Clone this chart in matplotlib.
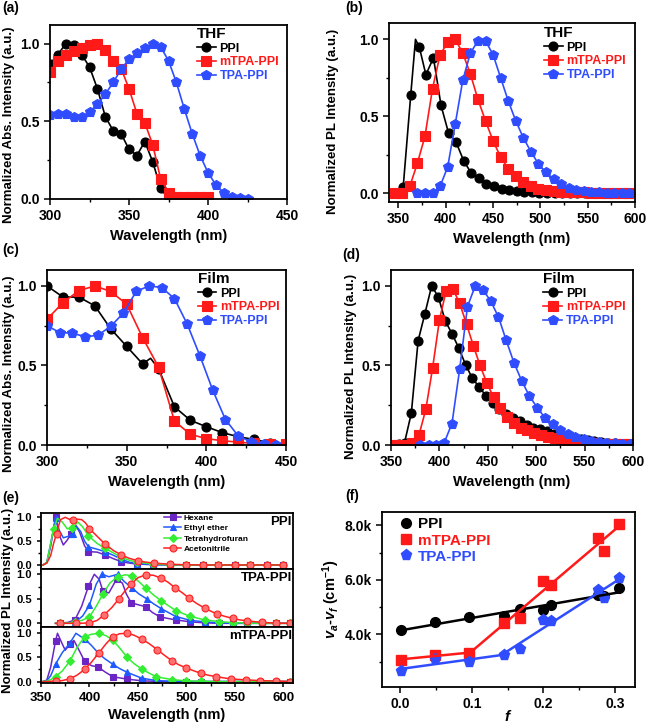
import numpy as np
import matplotlib
matplotlib.use("Agg")
import matplotlib.pyplot as plt
from matplotlib.ticker import MultipleLocator, FormatStrFormatter, FuncFormatter

plt.rcParams['font.family'] = ['Liberation Sans', 'DejaVu Sans']
plt.rcParams['font.weight'] = 'bold'
plt.rcParams['axes.labelweight'] = 'bold'
plt.rcParams['mathtext.fontset'] = 'custom'
plt.rcParams['mathtext.rm'] = 'Liberation Sans:bold'
plt.rcParams['mathtext.it'] = 'Liberation Sans:italic:bold'
plt.rcParams['mathtext.bf'] = 'Liberation Sans:bold'

# ---------------- (a) THF absorption ----------------
a_ppi_x = [300, 305, 310, 315, 320, 325, 330, 335, 340, 345, 350, 355, 360, 365, 370, 375]
a_ppi_y = [0.87, 0.93, 1.0, 0.99, 0.93, 0.85, 0.71, 0.53, 0.44, 0.42, 0.32, 0.28, 0.37, 0.24, 0.07, 0.0]
a_mtpa_x = [300, 305, 310, 315, 320, 325, 330, 335, 340, 345, 350, 355, 360, 365, 370, 375, 380, 385, 390, 395, 400]
a_mtpa_y = [0.82, 0.89, 0.93, 0.95, 0.97, 0.99, 1.0, 0.96, 0.89, 0.84, 0.71, 0.55, 0.49, 0.35, 0.13, 0.04,
            0.015, 0.01, 0.01, 0.01, 0.01]
a_tpa_x = [300, 305, 310, 315, 320, 325, 330, 335, 340, 345, 350, 355, 360, 365, 370, 375, 380, 385, 390,
           395, 400, 405, 410, 415, 420, 425]
a_tpa_y = [0.54, 0.545, 0.545, 0.53, 0.53, 0.56, 0.61, 0.675, 0.75, 0.835, 0.90, 0.94, 0.97, 1.0, 0.98, 0.89,
           0.75, 0.58, 0.42, 0.28, 0.17, 0.09, 0.04, 0.01, 0.005, 0.0]

# ---------------- (b) THF PL ----------------
b_ppi_x = [355, 363, 368, 372, 379, 387, 395, 403, 411, 419, 427, 435, 443, 451, 459, 467, 475, 483, 491, 499,
           507, 515, 523, 531, 539, 547, 555, 563, 571, 579, 587, 595]
b_ppi_y = [0.04, 0.64, 1.0, 0.95, 0.77, 0.88, 0.57, 0.39, 0.33, 0.21, 0.13, 0.10, 0.06, 0.045, 0.03, 0.02,
           0.015, 0.01, 0.005, 0.003, 0.002, 0.001, 0, 0, 0, 0, 0, 0, 0, 0, 0, 0]
b_ppi_plain = [368]
b_mtpa_x = [346, 354, 362, 370, 378, 386, 394, 402, 410, 418, 426, 434, 442, 450, 458, 466, 474, 482, 490,
            498, 506, 514, 522, 530, 538, 546, 554, 562, 570, 578, 586, 594]
b_mtpa_y = [0, 0, 0.045, 0.195, 0.37, 0.68, 0.90, 0.98, 1.0, 0.91, 0.775, 0.61, 0.47, 0.34, 0.235, 0.16,
            0.11, 0.07, 0.045, 0.03, 0.02, 0.015, 0.01, 0.008, 0.006, 0.005, 0.004, 0.003, 0.003, 0.002,
            0.002, 0.002]
b_tpa_x = [370, 378, 386, 394, 402, 410, 418, 426, 434, 442, 450, 458, 466, 474, 482, 490, 498, 506, 514,
           522, 530, 538, 546, 554, 562, 570, 578, 586, 594]
b_tpa_y = [0, 0, 0, 0.045, 0.17, 0.45, 0.735, 0.91, 0.99, 0.99, 0.90, 0.75, 0.60, 0.47, 0.36, 0.27, 0.19,
           0.135, 0.09, 0.06, 0.035, 0.022, 0.013, 0.008, 0.005, 0.003, 0.002, 0.001, 0.0]

# ---------------- (c) Film absorption ----------------
c_ppi_x = [300, 310, 320, 330, 340, 350, 360, 365, 370, 380, 390, 400, 410, 420, 430, 440, 450]
c_ppi_y = [1.0, 0.93, 0.93, 0.875, 0.73, 0.62, 0.51, 0.545, 0.48, 0.24, 0.155, 0.115, 0.078, 0.052, 0.035,
           0.014, 0.0]
c_ppi_plain = [365]
c_mtpa_x = [300, 310, 320, 330, 340, 350, 360, 370, 380, 390, 400, 410, 420, 430, 440, 450]
c_mtpa_y = [0.79, 0.895, 0.97, 1.0, 0.965, 0.885, 0.675, 0.49, 0.15, 0.067, 0.04, 0.027, 0.018, 0.01,
            0.006, 0.004]
c_tpa_x = [300, 308, 316, 324, 332, 340, 348, 356, 364, 372, 380, 388, 396, 404, 412, 420, 428, 436, 444]
c_tpa_y = [0.75, 0.707, 0.703, 0.68, 0.69, 0.746, 0.83, 0.965, 1.0, 0.99, 0.92, 0.76, 0.56, 0.345, 0.16,
           0.057, 0.02, 0.006, 0.0]

# ---------------- (d) Film PL ----------------
d_ppi_x = [352, 358, 364, 371, 378, 385, 392, 399, 406, 413, 420, 427, 434, 441, 448, 455, 462, 469, 476,
           483, 490, 497, 504, 511, 518, 525, 532, 539, 546, 553, 560, 567, 574, 581, 588, 595]
d_ppi_y = [0.0, 0.005, 0.015, 0.2, 0.655, 0.825, 1.0, 0.93, 0.78, 0.70, 0.61, 0.505, 0.42, 0.365, 0.31,
           0.265, 0.225, 0.195, 0.17, 0.15, 0.128, 0.11, 0.098, 0.085, 0.072, 0.06, 0.05, 0.042, 0.036,
           0.03, 0.025, 0.02, 0.015, 0.01, 0.008, 0.005]
d_mtpa_x = [351, 358, 365, 372, 379, 386, 393, 400, 407, 414, 421, 428, 435, 442, 449, 456, 463, 470, 477,
            484, 491, 498, 505, 512, 519, 526, 533, 540, 547, 554, 561, 568, 575, 582, 589, 596]
d_mtpa_y = [0, 0, 0, 0.01, 0.065, 0.225, 0.485, 0.785, 0.97, 0.98, 0.89, 0.76, 0.625, 0.50, 0.39, 0.30,
            0.23, 0.175, 0.14, 0.11, 0.092, 0.077, 0.063, 0.052, 0.043, 0.035, 0.028, 0.022, 0.018, 0.014,
            0.011, 0.009, 0.007, 0.006, 0.005, 0.004]
d_tpa_x = [380, 389, 397, 405, 413, 421, 429, 437, 445, 453, 461, 469, 477, 485, 493, 501, 509, 517, 525,
           533, 540, 549, 557, 565, 572, 581, 589, 597]
d_tpa_y = [0, 0, 0, 0.015, 0.135, 0.48, 0.87, 1.0, 0.975, 0.905, 0.805, 0.658, 0.518, 0.403, 0.308, 0.235,
           0.172, 0.13, 0.094, 0.067, 0.05, 0.036, 0.025, 0.019, 0.015, 0.01, 0.008, 0.004]

# ---------------- (e) solvatochromic PL ----------------
solvents = ['Hexane', 'Ethyl ether', 'Tetrahydrofuran', 'Acetonitrile']
tail_e = [483, 500, 517, 533, 550, 566, 583, 600]

e_ppi = {
    'Hexane': ([352, 356, 360, 365, 369, 373, 377, 381, 386, 390, 395, 399, 408, 416, 425, 433, 441, 449, 466] + tail_e,
               [0.0, 0.05, 0.4, 1.0, 0.62, 0.42, 0.52, 0.65, 0.83, 0.68, 0.4, 0.28, 0.27, 0.21, 0.13, 0.07,
                0.04, 0.02, 0.005, 0, 0, 0, 0, 0, 0, 0, 0],
               [352, 356, 360, 369, 373, 377, 386, 390, 395, 408, 425, 441]),
    'Ethyl ether': ([352, 356, 360, 365, 369, 373, 378, 383, 387, 391, 395, 399, 408, 416, 425, 433, 441, 449, 466] + tail_e,
                    [0.0, 0.05, 0.45, 0.98, 0.72, 0.57, 0.6, 0.66, 0.8, 0.7, 0.5, 0.38, 0.33, 0.28, 0.2, 0.12,
                     0.06, 0.03, 0.01, 0, 0, 0, 0, 0, 0, 0, 0],
                    [352, 356, 360, 369, 373, 378, 387, 391, 395, 408, 425, 441]),
    'Tetrahydrofuran': ([352, 356, 359, 363, 367, 372, 377, 382, 388, 393, 399, 408, 416, 425, 433, 441, 449, 466] + tail_e,
                        [0.0, 0.05, 0.35, 0.75, 0.98, 0.9, 0.76, 0.77, 0.9, 0.8, 0.61, 0.45, 0.35, 0.25, 0.16,
                         0.1, 0.06, 0.02, 0.005, 0, 0, 0, 0, 0, 0, 0],
                        [352, 356, 359, 367, 372, 377, 388, 393, 408, 425, 441]),
    'Acetonitrile': ([352, 356, 360, 363, 366, 370, 375, 379, 383, 388, 392, 396, 400, 408, 416, 425, 433, 441,
                      450, 458, 467] + tail_e,
                     [0.0, 0.04, 0.2, 0.45, 0.66, 0.95, 1.0, 0.96, 0.94, 0.96, 0.95, 0.88, 0.76, 0.6, 0.44, 0.3,
                      0.21, 0.14, 0.09, 0.06, 0.04, 0.015, 0.005, 0, 0, 0, 0, 0, 0],
                     [352, 356, 360, 363, 370, 375, 379, 388, 392, 396, 408, 425, 441, 458]),
}

tail_t = [489, 504, 519, 534, 548, 563, 578, 592, 607]
e_tpa = {
    'Hexane': ([365, 370, 378, 385, 392, 399, 405, 410, 414, 420, 428, 434, 438, 443, 450, 458, 465, 473] + tail_t,
               [0, 0.0, 0.02, 0.07, 0.35, 0.76, 1.0, 0.9, 0.65, 0.62, 0.9, 0.82, 0.6, 0.42, 0.38, 0.34, 0.22,
                0.13, 0.07, 0.03, 0.01, 0, 0, 0, 0, 0, 0],
               [365, 378, 392, 405, 410, 420, 434, 438, 450, 465]),
    'Ethyl ether': ([365, 370, 378, 385, 393, 400, 407, 413, 420, 429, 436, 444, 451, 459, 466, 474] + tail_t,
                    [0, 0, 0.005, 0.02, 0.15, 0.37, 0.8, 1.0, 0.95, 1.0, 0.85, 0.72, 0.6, 0.5, 0.4, 0.3, 0.14,
                     0.06, 0.03, 0.01, 0, 0, 0, 0, 0],
                    [365, 378, 393, 407, 420, 436, 451, 466]),
    'Tetrahydrofuran': ([365, 370, 378, 385, 392, 400, 407, 414, 421, 429, 437, 444, 451, 458, 466, 474] + tail_t,
                        [0, 0, 0.005, 0.03, 0.06, 0.13, 0.35, 0.6, 0.82, 0.95, 0.99, 0.97, 0.85, 0.72, 0.58,
                         0.46, 0.26, 0.14, 0.07, 0.035, 0.015, 0.005, 0, 0, 0],
                        [365, 378, 392, 407, 421, 437, 451, 466]),
    'Acetonitrile': ([365, 370, 378, 386, 393, 400, 408, 415, 423, 430, 437, 443, 450, 458, 466, 474, 481, 488,
                      496, 503, 511, 519, 526, 532, 540, 548, 555, 563, 570, 578, 585, 592, 607],
                     [0, 0, 0, 0, 0.003, 0.01, 0.06, 0.17, 0.32, 0.49, 0.67, 0.8, 0.93, 0.99, 0.98, 0.92, 0.84,
                      0.73, 0.62, 0.51, 0.4, 0.31, 0.24, 0.19, 0.14, 0.1, 0.07, 0.05, 0.035, 0.02, 0.01, 0.005, 0],
                     [365, 378, 393, 408, 423, 437, 450, 466, 481, 496, 511, 526, 540, 555, 570, 585]),
}

tail_m = [485, 500, 515, 531, 546, 561, 576, 592, 607]
e_mtpa = {
    'Hexane': ([352, 356, 360, 365, 367, 371, 375, 380, 384, 388, 395, 402, 409, 416, 424, 439, 454, 469] + tail_m,
               [0, 0.03, 0.3, 0.84, 1.0, 0.82, 0.65, 0.78, 0.85, 0.7, 0.42, 0.33, 0.3, 0.2, 0.1, 0.05, 0.015,
                0.005, 0, 0, 0, 0, 0, 0, 0, 0, 0],
               [352, 356, 360, 367, 371, 375, 384, 388, 402, 416]),
    'Ethyl ether': ([352, 356, 360, 365, 372, 380, 386, 395, 402, 409, 416, 424, 431, 439, 454, 469] + tail_m,
                    [0, 0.02, 0.12, 0.36, 0.6, 0.8, 1.0, 0.88, 0.75, 0.59, 0.47, 0.36, 0.27, 0.19, 0.07, 0.02,
                     0.005, 0, 0, 0, 0, 0, 0, 0, 0],
                    [352, 356, 360, 372, 386, 402, 416, 431]),
    'Tetrahydrofuran': ([352, 356, 360, 365, 372, 380, 387, 395, 402, 410, 417, 424, 431, 439, 446, 454, 462, 469] + tail_m,
                        [0, 0.01, 0.04, 0.1, 0.22, 0.43, 0.7, 0.93, 0.98, 1.0, 0.95, 0.86, 0.7, 0.5, 0.37, 0.26,
                         0.17, 0.1, 0.04, 0.015, 0.005, 0, 0, 0, 0, 0, 0],
                        [352, 356, 360, 372, 387, 402, 417, 431, 446, 462]),
    'Acetonitrile': ([352, 356, 360, 365, 372, 380, 387, 395, 402, 410, 417, 424, 431, 439, 446, 454, 462, 470,
                      477, 485, 492, 500, 508, 515, 523, 531, 539, 546, 561, 576, 592, 607],
                     [0, 0, 0.005, 0.01, 0.02, 0.06, 0.13, 0.25, 0.4, 0.6, 0.78, 0.93, 0.99, 1.0, 0.96, 0.88,
                      0.78, 0.66, 0.55, 0.43, 0.35, 0.28, 0.22, 0.17, 0.13, 0.1, 0.075, 0.055, 0.035, 0.02,
                      0.01, 0.0],
                     [352, 356, 360, 372, 387, 402, 417, 431, 446, 462, 477, 492, 508, 523, 539]),
}

# ---------------- (f) Lippert-Mataga ----------------
f_vals = [0.0012, 0.048, 0.096, 0.145, 0.167, 0.200, 0.210, 0.276, 0.284, 0.305]
f_ppi = [4171, 4453, 4636, 4660, 4942, 4881, 5064, 5450, 5400, 5700]
f_mtpa = [3070, 3229, 3315, 4416, 4600, 5957, 5823, 7547, 7046, 8061]
f_tpa = [2642, 3083, 2985, 3254, 3474, 4514, 4489, 5639, 5346, 6067]

BLACK, RED, BLUE = '#000000', '#ff1a1a', '#2f4dff'
E_COLORS = {'Hexane': '#6a25c4', 'Ethyl ether': '#1f5aff', 'Tetrahydrofuran': '#33ee33', 'Acetonitrile': '#ff2020'}
E_MARK = {'Hexane': 's', 'Ethyl ether': '^', 'Tetrahydrofuran': 'D', 'Acetonitrile': 'o'}

W, H = 647, 727
fig = plt.figure(figsize=(W / 100, H / 100), dpi=100)


def rect(l, t, r, b):
    return [l / W, 1 - b / H, (r - l) / W, (b - t) / H]


def series(ax, x, y, color, marker, label=None, plain=(), ms=6.5, mfc=None, lw=1.2):
    x = np.asarray(x, float)
    mask = ~np.isin(x, plain)
    ax.plot(x, y, color=color, lw=lw, marker=marker, ms=ms, markevery=list(mask),
            mfc=mfc or color, mec=color, mew=0.8, label=label)


def style(ax, xmaj, xmin, ymaj, ymin, fs=10):
    ax.xaxis.set_major_locator(MultipleLocator(xmaj))
    ax.xaxis.set_minor_locator(MultipleLocator(xmin))
    ax.yaxis.set_major_locator(MultipleLocator(ymaj))
    ax.yaxis.set_minor_locator(MultipleLocator(ymin))
    ax.tick_params(which='major', direction='out', length=4, width=1.1, labelsize=fs, top=False, right=False)
    ax.tick_params(which='minor', direction='out', length=2.5, width=1.0, top=False, right=False)
    for s in ax.spines.values():
        s.set_linewidth(1.3)


def legend3(ax, title, x, y):
    leg = ax.legend(title=title, loc='upper left', bbox_to_anchor=(x, y), frameon=False,
                    prop={'weight': 'bold', 'size': 9}, title_fontproperties={'weight': 'bold', 'size': 11},
                    handlelength=1.5, handletextpad=0.3, labelspacing=0.15, borderpad=0, borderaxespad=0,
                    alignment='left')
    for t, c in zip(leg.get_texts(), [BLACK, RED, BLUE]):
        t.set_color(c)


# (a)
ax = fig.add_axes(rect(50, 25, 287, 199))
series(ax, a_ppi_x, a_ppi_y, BLACK, 'o', 'PPI')
series(ax, a_mtpa_x, a_mtpa_y, RED, 's', 'mTPA-PPI')
series(ax, a_tpa_x, a_tpa_y, BLUE, 'p', 'TPA-PPI', ms=7.5)
ax.set_xlim(300, 450)
ax.set_ylim(0, 1.12)
style(ax, 50, 25, 0.5, 0.25)
ax.yaxis.set_major_formatter(FormatStrFormatter('%.1f'))
ax.set_xlabel('Wavelength (nm)', fontsize=10.5)
ax.set_ylabel('Normalized Abs. Intensity (a.u.)', fontsize=9.5)
ax.yaxis.set_label_coords(-0.148, 0.425)
legend3(ax, 'THF', 0.62, 0.99)

# (b)
ax = fig.add_axes(rect(389, 23, 635, 202))
series(ax, b_ppi_x, b_ppi_y, BLACK, 'o', 'PPI', plain=b_ppi_plain)
series(ax, b_mtpa_x, b_mtpa_y, RED, 's', 'mTPA-PPI')
series(ax, b_tpa_x, b_tpa_y, BLUE, 'p', 'TPA-PPI', ms=7.5)
ax.set_xlim(340, 600)
ax.set_ylim(-0.057, 1.106)
style(ax, 50, 25, 0.5, 0.25)
ax.yaxis.set_major_formatter(FormatStrFormatter('%.1f'))
ax.set_xlabel('Wavelength (nm)', fontsize=10.5)
ax.set_ylabel('Normalized PL Intensity (a.u.)', fontsize=9.5)
ax.yaxis.set_label_coords(-0.203, 0.45)
legend3(ax, 'THF', 0.63, 0.985)

# (c)
ax = fig.add_axes(rect(47, 270, 286, 445))
series(ax, c_ppi_x, c_ppi_y, BLACK, 'o', 'PPI', plain=c_ppi_plain)
series(ax, c_mtpa_x, c_mtpa_y, RED, 's', 'mTPA-PPI')
series(ax, c_tpa_x, c_tpa_y, BLUE, 'p', 'TPA-PPI', ms=7.5)
ax.set_xlim(300, 450)
ax.set_ylim(0, 1.10)
style(ax, 50, 25, 0.5, 0.25)
ax.yaxis.set_major_formatter(FormatStrFormatter('%.1f'))
ax.set_xlabel('Wavelength (nm)', fontsize=10.5)
ax.set_ylabel('Normalized Abs. Intensity (a.u.)', fontsize=9.5)
ax.yaxis.set_label_coords(-0.134, 0.41)
legend3(ax, 'Film', 0.63, 0.99)

# (d)
ax = fig.add_axes(rect(391, 270, 633, 445))
series(ax, d_ppi_x, d_ppi_y, BLACK, 'o', 'PPI')
series(ax, d_mtpa_x, d_mtpa_y, RED, 's', 'mTPA-PPI')
series(ax, d_tpa_x, d_tpa_y, BLUE, 'p', 'TPA-PPI', ms=7.5)
ax.set_xlim(350, 600)
ax.set_ylim(0, 1.10)
style(ax, 50, 25, 0.5, 0.25)
ax.yaxis.set_major_formatter(FormatStrFormatter('%.1f'))
ax.set_xlabel('Wavelength (nm)', fontsize=10.5)
ax.set_ylabel('Normalized PL Intensity (a.u.)', fontsize=9.5)
ax.yaxis.set_label_coords(-0.14, 0.45)
legend3(ax, 'Film', 0.63, 0.99)

# (e)
e_sets = [(e_ppi, 'PPI', (41, 513, 293, 569), (-0.084, 1.09)),
          (e_tpa, 'TPA-PPI', (41, 569, 293, 627), (-0.075, 1.108)),
          (e_mtpa, 'mTPA-PPI', (41, 627, 293, 683), (-0.03, 1.13))]
e_axes = []
for data, name, box, ylim in e_sets:
    ax = fig.add_axes(rect(*box))
    for s in solvents:
        x, y, plain = data[s]
        mfc = '#ff7070' if s == 'Acetonitrile' else None
        ms = 4 if s == 'Tetrahydrofuran' else 5
        series(ax, x, y, E_COLORS[s], E_MARK[s], s, plain=plain, ms=ms, mfc=mfc, lw=1.1)
    ax.set_xlim(350, 610)
    ax.set_ylim(*ylim)
    style(ax, 50, 25, 0.5, 0.25, fs=8)
    ax.tick_params(which='major', length=3)
    ax.tick_params(which='minor', length=2)
    ax.yaxis.set_major_formatter(FormatStrFormatter('%.1f'))
    ax.text(0.995, 0.95, name, transform=ax.transAxes, ha='right', va='top', fontsize=9.5, fontweight='bold')
    e_axes.append(ax)
for ax in e_axes[:-1]:
    ax.tick_params(labelbottom=False)
e_axes[-1].tick_params(axis='x', labelsize=9.5)
e_axes[-1].set_xlabel('Wavelength (nm)', fontsize=10.5, labelpad=3)
leg = e_axes[0].legend(loc='upper left', bbox_to_anchor=(0.49, 0.98), frameon=False,
                       prop={'weight': 'bold', 'size': 6}, handlelength=2.0, handletextpad=0.3,
                       labelspacing=0.3, borderpad=0, borderaxespad=0)
fig.text(8 / W, 1 - 600 / H, 'Normalized PL Intensity (a.u.)', rotation=90, ha='center', va='center',
         fontsize=9.5, fontweight='bold')

# (f)
ax = fig.add_axes(rect(382, 512, 635, 687))
fx = np.array(f_vals)
ax.plot(fx, f_ppi, 'o', color=BLACK, ms=7, label='PPI')
ax.plot(fx, f_mtpa, 's', color=RED, ms=6.5, label='mTPA-PPI')
ax.plot(fx, f_tpa, 'p', color=BLUE, ms=8, label='TPA-PPI')
# linear fits
k, b0 = np.polyfit(fx, f_ppi, 1)
xx = np.array([fx[0], fx[-1]])
ax.plot(xx, k * xx + b0, color=BLACK, lw=1.8)
k, b0 = np.polyfit(fx[:3], f_mtpa[:3], 1)
xx = np.array([fx[0], fx[2]])
ax.plot(xx, k * xx + b0, color=RED, lw=1.8)
k, b0 = np.polyfit(fx[3:], f_mtpa[3:], 1)
xx = np.array([fx[2], fx[-1]])
ax.plot(xx, k * xx + b0, color=RED, lw=1.8)
k, b0 = np.polyfit(fx[:4], f_tpa[:4], 1)
xx = np.array([fx[0], fx[3]])
ax.plot(xx, k * xx + b0, color=BLUE, lw=1.8)
k, b0 = np.polyfit(fx[3:], f_tpa[3:], 1)
xx = np.array([fx[3], fx[-1]])
ax.plot(xx, k * xx + b0, color=BLUE, lw=1.8)
ax.set_xlim(-0.0256, 0.328)
ax.set_ylim(2067, 8490)
style(ax, 0.1, 0.05, 2000, 1000)
ax.yaxis.set_major_formatter(FuncFormatter(lambda v, p: f'{v / 1000:.1f}k'))
ax.xaxis.set_major_formatter(FormatStrFormatter('%.1f'))
ax.set_xlabel(r'$f$', fontsize=11)
ax.xaxis.set_label_coords(0.5, -0.125)
ax.set_ylabel(r'$v_a$-$v_f$ (cm$^{-1}$)', fontsize=10.5)
ax.yaxis.set_label_coords(-0.158, 0.5)
leg = ax.legend(loc='upper left', bbox_to_anchor=(0.07, 0.97), frameon=False,
                prop={'weight': 'bold', 'size': 11}, handlelength=0.8, handletextpad=0.4,
                labelspacing=0.15, borderpad=0, borderaxespad=0)
for t, c in zip(leg.get_texts(), [BLACK, RED, BLUE]):
    t.set_color(c)

# panel labels
for lab, x, y in [('(a)', 2, 8), ('(b)', 345, 8), ('(c)', 2, 250), ('(d)', 342, 255),
                  ('(e)', 2, 498), ('(f)', 345, 496)]:
    fig.text(x / W, 1 - y / H, lab, fontsize=10, fontweight='bold', va='center', ha='left')

fig.savefig('out.png', dpi=100)
